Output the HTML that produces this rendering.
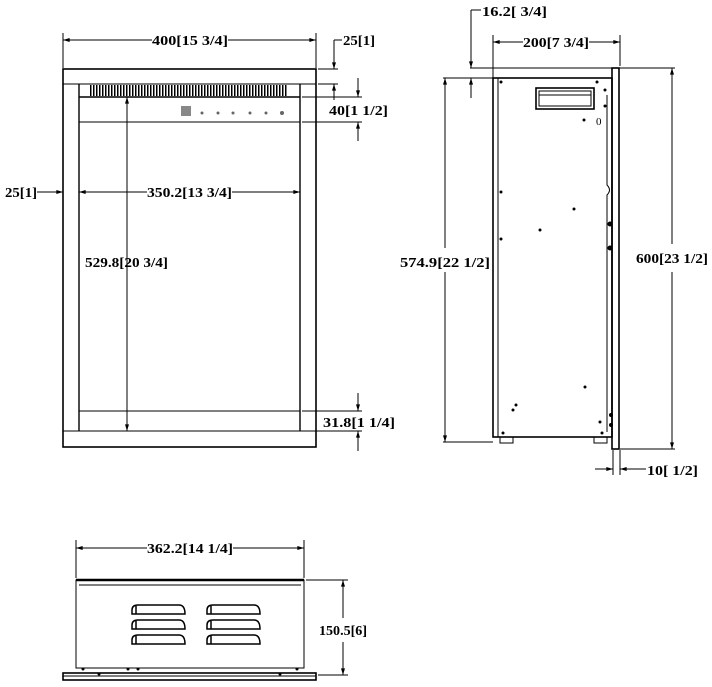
<!DOCTYPE html>
<html><head><style>html,body{margin:0;padding:0;background:#fff}svg{display:block}text{font-family:"Liberation Serif",serif;font-weight:bold;font-size:14px;fill:#000}</style></head><body>
<svg width="712" height="687" viewBox="0 0 712 687" xmlns="http://www.w3.org/2000/svg">
<defs><marker id="a" viewBox="0 0 10 6" refX="10" refY="3" markerWidth="10" markerHeight="4" orient="auto-start-reverse"><path d="M0,0L10,3L0,6z" fill="#000"/></marker>
<pattern id="h" width="3" height="11" patternUnits="userSpaceOnUse"><rect width="1.5" height="11" fill="#000"/></pattern></defs>
<g stroke="#000" fill="none" stroke-width="1">
<rect x="63" y="69" width="253" height="378" stroke-width="1.6"/>
<line x1="63" y1="84" x2="316" y2="84"/>
<line x1="63" y1="431" x2="316" y2="431"/>
<line x1="79" y1="84" x2="79" y2="431" stroke-width="1.4"/>
<line x1="300" y1="84" x2="300" y2="431" stroke-width="1.4"/>
<line x1="79" y1="97" x2="300" y2="97" stroke-width="1.4"/>
<line x1="79" y1="122" x2="300" y2="122"/>
<line x1="79" y1="411" x2="300" y2="411"/>
<rect x="90" y="85" width="198" height="11" fill="url(#h)" stroke="none"/>
<line x1="127" y1="97" x2="127" y2="431" marker-start="url(#a)" marker-end="url(#a)"/>
<line x1="63" y1="33" x2="63" y2="68"/><line x1="316" y1="33" x2="316" y2="68"/>
<line x1="63" y1="40" x2="152" y2="40" marker-start="url(#a)"/><line x1="228" y1="40" x2="316" y2="40" marker-end="url(#a)"/>
<line x1="318" y1="69" x2="338" y2="69"/><line x1="318" y1="84" x2="338" y2="84"/>
<line x1="334" y1="40" x2="334" y2="69" marker-end="url(#a)"/><line x1="334" y1="40" x2="342" y2="40"/>
<line x1="334" y1="84" x2="334" y2="100" marker-start="url(#a)"/>
<line x1="302" y1="97" x2="362" y2="97"/><line x1="302" y1="122" x2="362" y2="122"/>
<line x1="358" y1="78" x2="358" y2="97" marker-end="url(#a)"/><line x1="358" y1="122" x2="358" y2="141" marker-start="url(#a)"/>
<line x1="37" y1="192" x2="63" y2="192" marker-end="url(#a)"/>
<line x1="79" y1="192" x2="147" y2="192" marker-start="url(#a)"/>
<line x1="232" y1="192" x2="300" y2="192" marker-end="url(#a)"/>
<line x1="302" y1="411" x2="362" y2="411"/><line x1="302" y1="431" x2="362" y2="431"/>
<line x1="358" y1="393" x2="358" y2="411" marker-end="url(#a)"/><line x1="358" y1="431" x2="358" y2="451" marker-start="url(#a)"/>
<rect x="493" y="78" width="119" height="359" stroke-width="1.6"/>
<line x1="498" y1="78" x2="498" y2="437"/>
<rect x="612" y="68" width="7" height="381" stroke-width="1.6"/>
<path d="M607,95 L607,185 Q612,190 607,195 L607,432"/>
<rect x="536" y="88" width="58" height="21" stroke-width="1.6"/><line x1="539" y1="95" x2="591" y2="95"/><rect x="539" y="91" width="52" height="15"/>
<path d="M500,437v6h13v-6M594,437v6h13v-6"/>
<line x1="470" y1="68" x2="675" y2="68"/><line x1="443" y1="78" x2="493" y2="78"/><line x1="443" y1="442" x2="493" y2="442"/><line x1="620" y1="449" x2="675" y2="449"/>
<line x1="672" y1="68" x2="672" y2="244" marker-start="url(#a)"/><line x1="672" y1="272" x2="672" y2="449" marker-end="url(#a)"/>
<line x1="445" y1="78" x2="445" y2="248" marker-start="url(#a)"/><line x1="445" y1="272" x2="445" y2="442" marker-end="url(#a)"/>
<line x1="493" y1="35" x2="493" y2="78"/><line x1="620" y1="35" x2="620" y2="66"/>
<line x1="493" y1="42" x2="523" y2="42" marker-start="url(#a)"/><line x1="589" y1="42" x2="620" y2="42" marker-end="url(#a)"/>
<line x1="471" y1="10" x2="471" y2="68" marker-end="url(#a)"/><line x1="471" y1="10" x2="481" y2="10"/><line x1="471" y1="78" x2="471" y2="98" marker-start="url(#a)"/>
<line x1="613" y1="450" x2="613" y2="475"/><line x1="620" y1="450" x2="620" y2="475"/>
<line x1="595" y1="469" x2="613" y2="469" marker-end="url(#a)"/><line x1="620" y1="469" x2="646" y2="469" marker-start="url(#a)"/>
<rect x="76" y="580" width="228" height="88"/><line x1="76" y1="580" x2="304" y2="580" stroke-width="2.4"/><line x1="79" y1="585" x2="301" y2="585"/>
<rect x="63" y="673" width="253" height="7" stroke-width="1.6"/><line x1="63" y1="676" x2="316" y2="676"/>
<line x1="76" y1="540" x2="76" y2="578"/><line x1="304" y1="540" x2="304" y2="578"/>
<line x1="76" y1="548" x2="147" y2="548" marker-start="url(#a)"/><line x1="233" y1="548" x2="304" y2="548" marker-end="url(#a)"/>
<line x1="306" y1="580" x2="348" y2="580"/><line x1="318" y1="675" x2="348" y2="675"/>
<line x1="343" y1="580" x2="343" y2="618" marker-start="url(#a)"/><line x1="343" y1="642" x2="343" y2="675" marker-end="url(#a)"/>
<g stroke-width="1.5">
<path d="M132,614v-4q0,-5 6,-5h41q6,0 6,9z M136,606v8"/><path d="M132,629v-4q0,-5 6,-5h41q6,0 6,9z M136,621v8"/><path d="M132,644v-4q0,-5 6,-5h41q6,0 6,9z M136,636v8"/>
<path d="M207,614v-4q0,-5 6,-5h41q6,0 6,9z M211,606v8"/><path d="M207,629v-4q0,-5 6,-5h41q6,0 6,9z M211,621v8"/><path d="M207,644v-4q0,-5 6,-5h41q6,0 6,9z M211,636v8"/>
</g>
</g>
<rect x="181" y="106" width="10" height="10" fill="#888"/>
<g fill="#666"><circle cx="202" cy="113" r="1.5"/><circle cx="218" cy="113" r="1.5"/><circle cx="233" cy="113" r="1.5"/><circle cx="250" cy="113" r="1.5"/><circle cx="266" cy="113" r="1.5"/><circle cx="282" cy="113" r="2"/></g>
<g fill="#000"><circle cx="501" cy="82" r="1.5"/><circle cx="597" cy="82" r="1.5"/><circle cx="605" cy="90" r="1.5"/><circle cx="605" cy="106" r="1.5"/><circle cx="584" cy="120" r="1.5"/><circle cx="501" cy="192" r="1.5"/><circle cx="574" cy="209" r="1.5"/><circle cx="540" cy="230" r="1.5"/><circle cx="501" cy="239" r="1.5"/><circle cx="610" cy="224" r="2.5"/><circle cx="610" cy="248" r="2.5"/><circle cx="585" cy="387" r="1.5"/><circle cx="516" cy="405" r="1.5"/><circle cx="513" cy="410" r="1.5"/><circle cx="503" cy="433" r="1.5"/><circle cx="600" cy="422" r="1.5"/><circle cx="602" cy="433" r="1.5"/><circle cx="611" cy="415" r="2"/><circle cx="611" cy="425" r="2"/>
<circle cx="83" cy="669" r="1.5"/><circle cx="99" cy="674" r="1.5"/><circle cx="128" cy="669" r="1.5"/><circle cx="138" cy="669" r="1.5"/><circle cx="280" cy="674" r="1.5"/><circle cx="297" cy="669" r="1.5"/></g>
<text x="596" y="125" style="font-weight:normal;font-size:11px">0</text>
<text x="152" y="45" textLength="76" lengthAdjust="spacingAndGlyphs">400[15 3/4]</text>
<text x="343" y="45" textLength="32" lengthAdjust="spacingAndGlyphs">25[1]</text>
<text x="329" y="115" textLength="59" lengthAdjust="spacingAndGlyphs">40[1 1/2]</text>
<text x="5" y="197" textLength="32" lengthAdjust="spacingAndGlyphs">25[1]</text>
<text x="147" y="197" textLength="85" lengthAdjust="spacingAndGlyphs">350.2[13 3/4]</text>
<text x="85" y="267" textLength="83" lengthAdjust="spacingAndGlyphs">529.8[20 3/4]</text>
<text x="323" y="427" textLength="72" lengthAdjust="spacingAndGlyphs">31.8[1 1/4]</text>
<text x="482" y="16" textLength="65" lengthAdjust="spacingAndGlyphs">16.2[ 3/4]</text>
<text x="523" y="47" textLength="66" lengthAdjust="spacingAndGlyphs">200[7 3/4]</text>
<text x="400" y="267" textLength="90" lengthAdjust="spacingAndGlyphs">574.9[22 1/2]</text>
<text x="636" y="263" textLength="72" lengthAdjust="spacingAndGlyphs">600[23 1/2]</text>
<text x="647" y="475" textLength="51" lengthAdjust="spacingAndGlyphs">10[ 1/2]</text>
<text x="147" y="553" textLength="86" lengthAdjust="spacingAndGlyphs">362.2[14 1/4]</text>
<text x="319" y="635" textLength="48" lengthAdjust="spacingAndGlyphs">150.5[6]</text>
</svg>
</body></html>
